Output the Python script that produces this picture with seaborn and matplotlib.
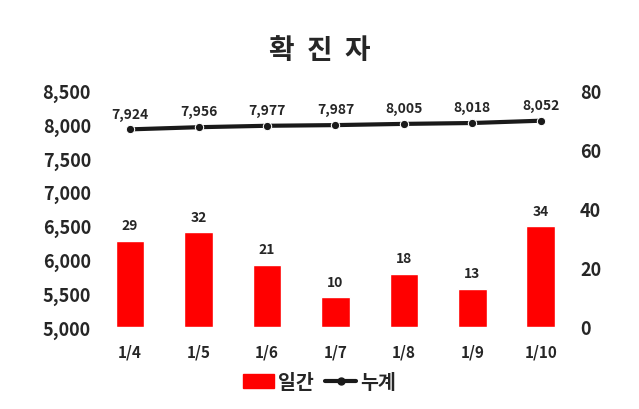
import matplotlib
matplotlib.use("Agg")
import matplotlib.pyplot as plt
import seaborn as sns
import pandas as pd
from matplotlib.patches import Patch
from matplotlib.lines import Line2D

dates = ["1/4", "1/5", "1/6", "1/7", "1/8", "1/9", "1/10"]
daily = [29, 32, 21, 10, 18, 13, 34]
cumulative = [7924, 7956, 7977, 7987, 8005, 8018, 8052]

sns.set_style("white")
plt.rcParams['font.family'] = ['Noto Sans CJK KR', 'DejaVu Sans']

df = pd.DataFrame({"date": dates, "daily": daily, "cum": cumulative})

fig = plt.figure(figsize=(6.39, 4.10), dpi=100)
ax = fig.add_axes([0.15, 0.2, 0.75, 0.577])   # left axis (line)
ax2 = ax.twinx()                              # right axis (bars)

sns.barplot(data=df, x="date", y="daily", color="#ff0000", width=0.42,
            saturation=1, ax=ax2)
ax2.set_ylim(0, 80)
ax2.set_yticks([0, 20, 40, 60, 80])
ax2.set_xlabel(""); ax2.set_ylabel("")
for i, v in enumerate(daily):
    ax2.text(i, v + 3, str(v), ha="center", va="bottom", fontsize=10, fontweight="bold")

sns.lineplot(x=list(range(len(dates))), y=cumulative, color="#1a1a1a", lw=3,
             marker="o", markersize=6, ax=ax)
ax.set_ylim(5000, 8500)
ax.set_yticks(range(5000, 8501, 500))
ax.set_yticklabels([f"{v:,}" for v in range(5000, 8501, 500)])
ax.set_xticks(range(len(dates)))
ax.set_xticklabels(dates)
for i, v in enumerate(cumulative):
    ax.text(i, v + 130, f"{v:,}", ha="center", va="bottom", fontsize=10, fontweight="bold")

ax.set_zorder(ax2.get_zorder() + 1)
ax.patch.set_visible(False)

for a in (ax, ax2):
    for s in a.spines.values():
        s.set_visible(False)
    a.tick_params(length=0, labelsize=13)
    a.set_xlim(-0.5, 6.5)
    for t in a.get_yticklabels() + a.get_xticklabels():
        t.set_fontweight("bold")
ax.tick_params(axis="x", pad=12, labelsize=11)
ax2.tick_params(axis="x", labelbottom=False)

fig.text(0.5, 0.875, "확  진  자", ha="center", va="center", fontsize=20, fontweight="bold")

handles = [Patch(color="#ff0000"),
           Line2D([], [], color="#1a1a1a", lw=3, marker="o", markersize=5)]
fig.legend(handles, ["일간", "누계"], loc="center", bbox_to_anchor=(0.5, 0.065),
           ncol=2, frameon=False, prop={"size": 14, "weight": "bold"},
           handlelength=1.6, columnspacing=0.6, handletextpad=0.2)

fig.savefig("out.png", dpi=100)
